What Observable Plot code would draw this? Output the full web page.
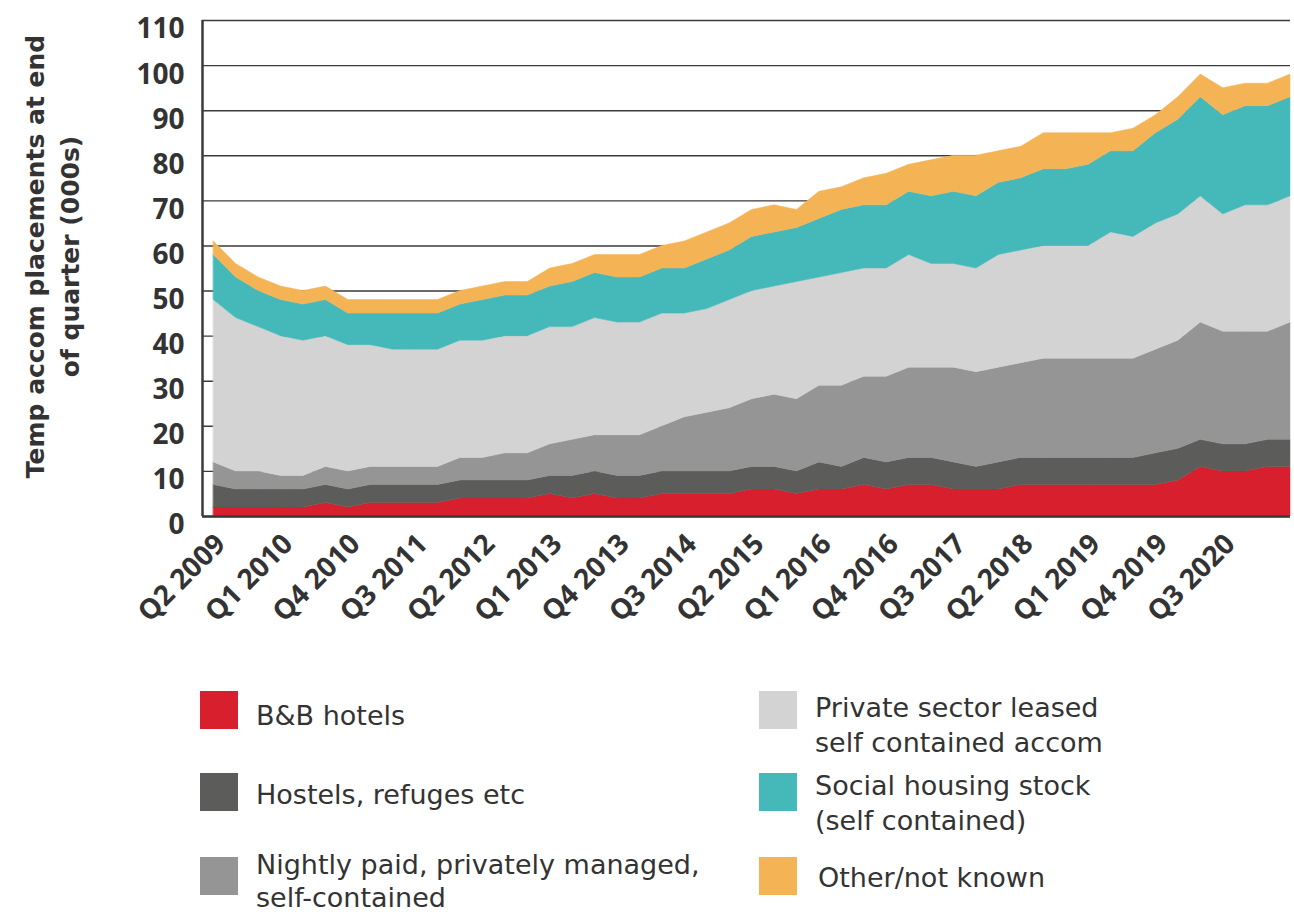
<!DOCTYPE html>
<html><head><meta charset="utf-8">
<script src="https://cdn.jsdelivr.net/npm/d3@7"></script>
<script src="https://cdn.jsdelivr.net/npm/@observablehq/plot@0.6"></script>
<style>
body{margin:0;background:#fff;font-family:"DejaVu Sans",sans-serif;color:#333;}
#chart svg{display:block;}
#legend{position:relative;width:1294px;height:255px;overflow:hidden;}
.sw{position:absolute;width:38px;height:38px;}
.lt{position:absolute;font-size:27px;line-height:35px;white-space:nowrap;color:#333;}
</style></head><body>
<div id="chart"></div>
<div id="legend"></div>
<script>
const quarters = ["Q2 2009","Q3 2009","Q4 2009","Q1 2010","Q2 2010","Q3 2010","Q4 2010","Q1 2011","Q2 2011","Q3 2011","Q4 2011","Q1 2012","Q2 2012","Q3 2012","Q4 2012","Q1 2013","Q2 2013","Q3 2013","Q4 2013","Q1 2014","Q2 2014","Q3 2014","Q4 2014","Q1 2015","Q2 2015","Q3 2015","Q4 2015","Q1 2016","Q2 2016","Q3 2016","Q4 2016","Q1 2017","Q2 2017","Q3 2017","Q4 2017","Q1 2018","Q2 2018","Q3 2018","Q4 2018","Q1 2019","Q2 2019","Q3 2019","Q4 2019","Q1 2020","Q2 2020","Q3 2020","Q4 2020","Q1 2021","Q2 2021"];
const tickQuarters = ["Q2 2009","Q1 2010","Q4 2010","Q3 2011","Q2 2012","Q1 2013","Q4 2013","Q3 2014","Q2 2015","Q1 2016","Q4 2016","Q3 2017","Q2 2018","Q1 2019","Q4 2019","Q3 2020"];
const yTicks = [0,10,20,30,40,50,60,70,80,90,100,110];
const series = ["B&B hotels","Hostels, refuges etc","Nightly paid, privately managed, self-contained","Private sector leased self contained accom","Social housing stock (self contained)","Other/not known"];
const colors = ["#d71f2e","#5c5d5b","#949594","#d2d3d2","#45b9b9","#f4b354"];
// thousands of placements at end of quarter
const bnb      = [2,2,2,2,2,3,2,3,3,3,3, 4,4,4,4,5,4,5,4,4,5, 5,5,5,6,6,5,6,6,7,6, 7,7,6,6,6,7,7,7,7,7, 7,7,8,11,10,10,11,11];
const hostels  = [5,4,4,4,4,4,4,4,4,4,4, 4,4,4,4,4,5,5,5,5,5, 5,5,5,5,5,5,6,5,6,6, 6,6,6,5,6,6,6,6,6,6, 6,7,7,6,6,6,6,6];
const nightly  = [5,4,4,3,3,4,4,4,4,4,4, 5,5,6,6,7,8,8,9,9,10, 12,13,14,15,16,16,17,18,18,19, 20,20,21,21,21,21,22,22,22,22, 22,23,24,26,25,25,24,26];
const privateLeased = [36,34,32,31,30,29,28,27,26,26,26, 26,26,26,26,26,25,26,25,25,25, 23,23,24,24,24,26,24,25,24,24, 25,23,23,23,25,25,25,25,25,28, 27,28,28,28,26,28,28,28];
const social   = [10,9,8,8,8,8,7,7,8,8,8, 8,9,9,9,9,10,10,10,10,10, 10,11,11,12,12,12,13,14,14,14, 14,15,16,16,16,16,17,17,18,18, 19,20,21,22,22,22,22,22];
const other    = [3,3,3,3,3,3,3,3,3,3,3, 3,3,3,3,4,4,4,5,5,5, 6,6,6,6,6,4,6,5,6,7, 6,8,8,9,7,7,8,8,7,4, 5,4,5,5,6,5,5,5];
const yTitle = "Temp accom placements at end\nof quarter (000s)";

const values = [bnb, hostels, nightly, privateLeased, social, other];
const table = series.flatMap((s, k) => values[k].map((v, i) => ({i, v, s})));
const tickIdx = tickQuarters.map(q => quarters.indexOf(q));
const ink = "#3a3a3a";
const font = "DejaVu Sans";
const tickFont = "Open Sans";

const chart = Plot.plot({
  width: 1294, height: 660,
  marginLeft: 202, marginRight: 4, marginTop: 20, marginBottom: 144,
  x: {type: "linear", domain: [-0.5, quarters.length - 1], axis: null},
  y: {domain: [0, 110], axis: null},
  color: {domain: series, range: colors},
  marks: [
    Plot.ruleY(yTicks, {stroke: ink, strokeWidth: 1.4}),
    Plot.areaY(table, {x: "i", y: "v", fill: "s", stroke: "s", strokeWidth: 0.5, order: series, curve: "linear"}),
    Plot.ruleX([-0.5], {stroke: ink, strokeWidth: 2.5}),
    Plot.ruleY([0], {stroke: ink, strokeWidth: 2.5}),
    Plot.axisY(yTicks, {anchor: "left", tickSize: 0, tickPadding: 18, dy: 9, fontSize: 28, fontWeight: "bold", fontFamily: tickFont, color: "#333", label: null}),
    Plot.axisX(tickIdx, {anchor: "bottom", tickSize: 0, tickRotate: -45, tickFormat: i => quarters[i], fontSize: 28, fontWeight: "bold", fontFamily: tickFont, color: "#333", label: null, dx: 7, dy: 11}),
    Plot.text([yTitle], {frameAnchor: "left", text: d => d, rotate: -90, dx: -152, dy: -12, fontSize: 25, fontWeight: "bold", fontFamily: font, fill: "#333", lineHeight: 1.4, textAnchor: "middle", lineAnchor: "middle"})
  ]
});
document.getElementById("chart").appendChild(chart);

// legend (HTML, below the SVG)
const legendItems = [
  {k: 0, sx: 200, sy: 31, tx: 256, ty: 38, lines: ["B&B hotels"]},
  {k: 1, sx: 200, sy: 113, tx: 256, ty: 117, lines: ["Hostels, refuges etc"]},
  {k: 2, sx: 200, sy: 197, tx: 256, ty: 188, lh: 33, lines: ["Nightly paid, privately managed,", "self-contained"]},
  {k: 3, sx: 759, sy: 31, tx: 815, ty: 30, lines: ["Private sector leased", "self contained accom"]},
  {k: 4, sx: 759, sy: 113, tx: 815, ty: 108, lines: ["Social housing stock", "(self contained)"]},
  {k: 5, sx: 759, sy: 197, tx: 818, ty: 200, lines: ["Other/not known"]}
];
const legend = document.getElementById("legend");
for (const it of legendItems) {
  const sw = document.createElement("div");
  sw.className = "sw";
  sw.style.left = it.sx + "px"; sw.style.top = it.sy + "px";
  sw.style.background = colors[it.k];
  legend.appendChild(sw);
  const t = document.createElement("div");
  t.className = "lt";
  t.style.left = it.tx + "px"; t.style.top = it.ty + "px";
  if (it.lh) t.style.lineHeight = it.lh + "px";
  t.innerHTML = it.lines.map(l => l.replace(/&/g, "&amp;")).join("<br>");
  legend.appendChild(t);
}
</script>
</body></html>
